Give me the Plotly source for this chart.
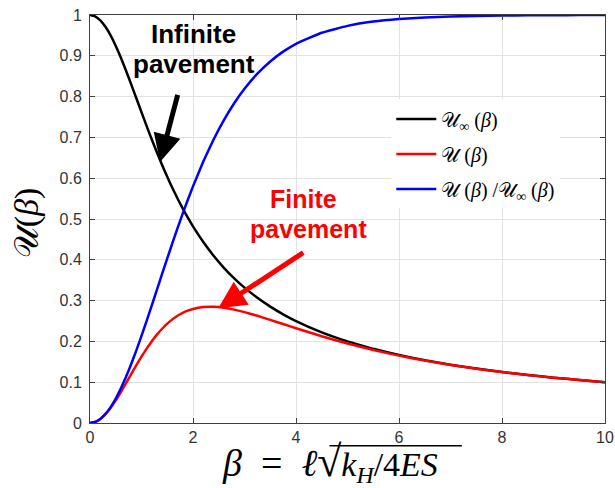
import plotly.graph_objects as go

beta = [0, 0.1, 0.2, 0.3, 0.4, 0.5, 0.6, 0.7, 0.8, 0.9, 1.0, 1.1, 1.2, 1.3, 1.4, 1.5, 1.6, 1.7, 1.8, 1.9,
        2.0, 2.2, 2.4, 2.6, 2.8, 3.0, 3.25, 3.5, 3.75, 4.0, 4.5, 5.0, 5.5, 6.0, 6.5, 7.0, 7.5, 8.0,
        8.5, 9.0, 9.5, 10.0]
u_inf = [1.0, 0.9967, 0.9869, 0.9710, 0.9499, 0.9242, 0.8951, 0.8634, 0.8300, 0.7959, 0.7616,
         0.7277, 0.6947, 0.6629, 0.6324, 0.6034, 0.5760, 0.5502, 0.5260, 0.5033, 0.4820, 0.4435,
         0.4099, 0.3804, 0.3545, 0.3317, 0.3068, 0.2852, 0.2664, 0.2498, 0.2222, 0.2000, 0.1818,
         0.1667, 0.1538, 0.1429, 0.1333, 0.1250, 0.1176, 0.1111, 0.1053, 0.1000]
u_fin = [0.0, 0.0025, 0.0098, 0.0215, 0.0370, 0.0554, 0.0760, 0.0977, 0.1198, 0.1417, 0.1626,
         0.1823, 0.2004, 0.2166, 0.2310, 0.2434, 0.2540, 0.2628, 0.2699, 0.2754, 0.2796, 0.2842,
         0.2849, 0.2825, 0.2779, 0.2718, 0.2627, 0.2527, 0.2425, 0.2322, 0.2125, 0.1947, 0.1789,
         0.1651, 0.1529, 0.1424, 0.1330, 0.1248, 0.1175, 0.1111, 0.1053, 0.1000]
ratio = [0.0, 0.0025, 0.0099, 0.0222, 0.0390, 0.0600, 0.0849, 0.1132, 0.1444, 0.1780, 0.2136,
         0.2505, 0.2884, 0.3268, 0.3653, 0.4034, 0.4410, 0.4776, 0.5131, 0.5473, 0.5800, 0.6408,
         0.6950, 0.7426, 0.7838, 0.8193, 0.8563, 0.8862, 0.9102, 0.9294, 0.9565, 0.9734, 0.9838,
         0.9901, 0.9940, 0.9964, 0.9978, 0.9987, 0.9992, 0.9995, 0.9997, 0.9998]

x_ticks = [0, 2, 4, 6, 8, 10]
y_ticks = [0, 0.1, 0.2, 0.3, 0.4, 0.5, 0.6, 0.7, 0.8, 0.9, 1]
y_tick_text = ["0", "0.1", "0.2", "0.3", "0.4", "0.5", "0.6", "0.7", "0.8", "0.9", "1"]

U = "𝒰"
names = [U + "<sub>∞</sub> (<i>β</i>)", U + " (<i>β</i>)", U + " (<i>β</i>) /" + U + "<sub>∞</sub> (<i>β</i>)"]

fig = go.Figure()
for i, (ys, col) in enumerate([(u_inf, "black"), (u_fin, "#ff0000"), (ratio, "#0000ff")]):
    fig.add_trace(go.Scatter(x=beta, y=ys, mode="lines", name=names[i], legendgroup=str(i),
                             line=dict(color=col, width=2.5, shape="spline", smoothing=0.3)))

axis_common = dict(showline=True, linecolor="#404040", linewidth=1, mirror="ticks",
                   ticks="inside", ticklen=5, tickcolor="#404040", showgrid=True,
                   gridcolor="#e3e3e3", gridwidth=1, zeroline=False, automargin=False,
                   tickfont=dict(family="Liberation Sans, Arial", size=16, color="#333333"))

fig.update_xaxes(range=[0, 10], tickvals=x_ticks, **axis_common)
fig.update_yaxes(range=[0, 1], tickvals=y_ticks, ticktext=y_tick_text, ticklabelstandoff=4, **axis_common)

bold = "Liberation Sans, Arial"
ann = [
    dict(x=2.01, y=0.953, text="<b>Infinite</b>", font=dict(family=bold, size=26, color="black")),
    dict(x=2.02, y=0.88, text="<b>pavement</b>", font=dict(family=bold, size=26, color="black")),
    dict(x=4.15, y=0.549, text="<b>Finite</b>", font=dict(family=bold, size=25, color="#ff0000")),
    dict(x=4.24, y=0.475, text="<b>pavement</b>", font=dict(family=bold, size=25, color="#ff0000")),
]
for a in ann:
    fig.add_annotation(xref="x", yref="y", showarrow=False, xanchor="center", yanchor="middle", **a)

# arrows
fig.add_annotation(x=1.36, y=0.640, ax=1.71, ay=0.808, xref="x", yref="y", axref="x", ayref="y",
                   text="", showarrow=True, arrowhead=2, arrowsize=1.1, arrowwidth=5, arrowcolor="black")
fig.add_annotation(x=2.49, y=0.281, ax=4.17, ay=0.42, xref="x", yref="y", axref="x", ayref="y",
                   text="", showarrow=True, arrowhead=2, arrowsize=1.1, arrowwidth=5, arrowcolor="#ff0000")

# axis titles
fig.add_annotation(xref="paper", yref="paper", x=-0.122, y=0.49, xanchor="center", yanchor="middle",
                   text=U + "(<i>β</i>)", textangle=-90, showarrow=False,
                   font=dict(family="Liberation Serif", size=34, color="black"))
fig.add_annotation(xref="paper", yref="paper", x=0.466, y=-0.098, xanchor="center", yanchor="middle",
                   text="<span style='font-size:38px'><i>β</i>\u2002=\u2002<i>ℓ</i></span>"
                        "<span style='font-size:44px'>√</span><i>k<sub>H</sub></i>/4<i>ES</i>",
                   showarrow=False, font=dict(family="Liberation Serif", size=34, color="black"))
# radical overline
fig.add_shape(type="line", xref="paper", yref="paper", x0=0.465, x1=0.722, y0=-0.056, y1=-0.056,
              line=dict(color="black", width=1.5))

fig.update_layout(
    width=615, height=488, margin=dict(l=90, r=10, t=15, b=65),
    plot_bgcolor="white", paper_bgcolor="white",
    legend=dict(x=0.585, y=0.793, xanchor="left", yanchor="top", bgcolor="white",
                borderwidth=0, tracegroupgap=6, itemwidth=40,
                font=dict(family="Liberation Serif", size=20, color="black")),
    showlegend=True,
)

fig.write_html("out.html")
